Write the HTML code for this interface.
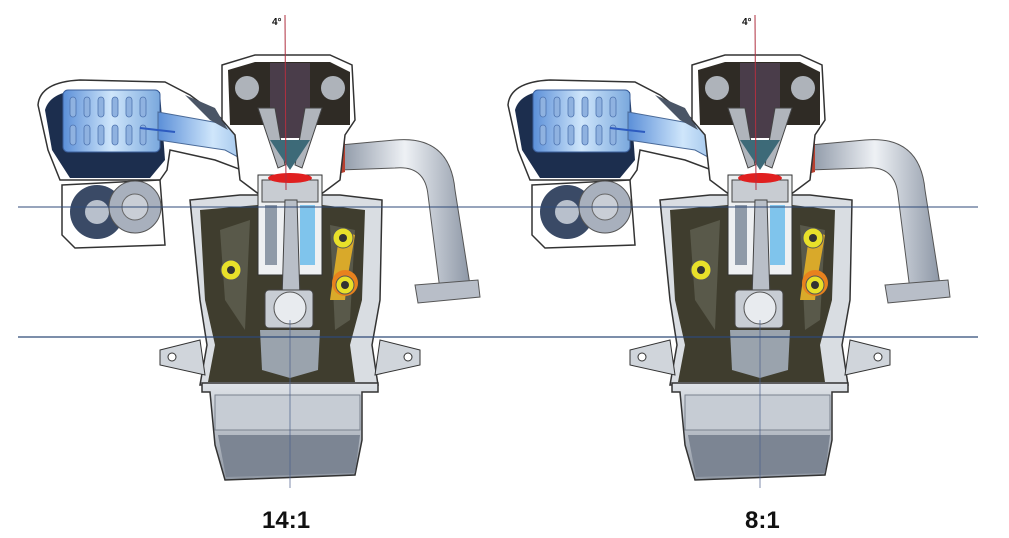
<!DOCTYPE html>
<html><head><meta charset="utf-8"><style>
html,body{margin:0;padding:0;background:#fff;width:1009px;height:538px;overflow:hidden}
svg{display:block}
</style></head><body>
<svg width="1009" height="538" viewBox="0 0 1009 538" xmlns="http://www.w3.org/2000/svg">
<defs>
<linearGradient id="blue" x1="0" x2="1"><stop offset="0" stop-color="#5b8fd8"/><stop offset="0.5" stop-color="#cfe6fb"/><stop offset="1" stop-color="#7aa8dd"/></linearGradient>
<linearGradient id="pipe" x1="0" x2="1"><stop offset="0" stop-color="#8d97a6"/><stop offset="0.5" stop-color="#eef1f5"/><stop offset="1" stop-color="#8d97a6"/></linearGradient>
<linearGradient id="pan" x1="0" y1="0" x2="0" y2="1"><stop offset="0" stop-color="#dfe3e8"/><stop offset="1" stop-color="#8f97a3"/></linearGradient>
<g id="eng">
 <!-- intake box -->
 <path d="M38,105 Q40,82 80,80 L165,82 L190,95 L230,125 L265,160 L255,175 L215,160 L170,150 L167,170 L160,180 L60,180 L48,150 Z" fill="#fff" stroke="#333" stroke-width="1.5"/>
 <path d="M45,110 Q50,92 80,90 L160,92 L165,160 L150,178 L70,178 L52,150 Z" fill="#1c2e4e"/>
 <rect x="63" y="90" width="97" height="62" rx="5" fill="url(#blue)" stroke="#3a5e9a"/>
 <g fill="#8fb2e0" stroke="#4e74b0" stroke-width="0.8">
  <rect x="70" y="97" width="6" height="20" rx="3"/><rect x="84" y="97" width="6" height="20" rx="3"/><rect x="98" y="97" width="6" height="20" rx="3"/><rect x="112" y="97" width="6" height="20" rx="3"/><rect x="126" y="97" width="6" height="20" rx="3"/><rect x="140" y="97" width="6" height="20" rx="3"/>
  <rect x="70" y="125" width="6" height="20" rx="3"/><rect x="84" y="125" width="6" height="20" rx="3"/><rect x="98" y="125" width="6" height="20" rx="3"/><rect x="112" y="125" width="6" height="20" rx="3"/><rect x="126" y="125" width="6" height="20" rx="3"/><rect x="140" y="125" width="6" height="20" rx="3"/>
 </g>
 <path d="M158,112 L230,125 L268,160 L262,170 L225,150 L158,140 Z" fill="url(#blue)" stroke="#4a6a98"/>
 <path d="M185,95 L215,108 L228,130 L210,120 Z" fill="#4a5566"/>
 <path d="M140,128 L175,132" stroke="#2d5bc0" stroke-width="2"/>
 <!-- supercharger -->
 <path d="M62,185 L160,180 L165,245 L75,248 L62,235 Z" fill="#fff" stroke="#333" stroke-width="1.5"/>
 <circle cx="97" cy="212" r="27" fill="#3a4a66"/>
 <circle cx="97" cy="212" r="12" fill="#b8c0cc"/>
 <circle cx="135" cy="207" r="26" fill="#a8b0bd" stroke="#555"/>
 <circle cx="135" cy="207" r="13" fill="#c9ced6" stroke="#666"/>
 <!-- exhaust pipe -->
 <path d="M340,145 L395,140 Q450,135 455,190 L470,285 L440,290 L428,195 Q425,165 395,168 L340,170 Z" fill="url(#pipe)" stroke="#555"/>
 <path d="M415,285 L478,280 L480,297 L418,303 Z" fill="#b8bec8" stroke="#555"/>
 <path d="M300,155 L345,142 L345,172 L318,180 Z" fill="#b84030"/>
 <!-- head -->
 <path d="M222,65 L255,55 L330,55 L352,65 L355,120 L345,135 L340,180 L320,195 L260,195 L240,180 L235,135 L222,120 Z" fill="#fff" stroke="#333" stroke-width="1.5"/>
 <path d="M228,70 L255,62 L330,62 L350,72 L350,125 L230,125 Z" fill="#2f2b25"/>
 <rect x="270" y="63" width="40" height="75" fill="#4a3d4a"/>
 <circle cx="247" cy="88" r="12" fill="#aeb3ba"/>
 <circle cx="333" cy="88" r="12" fill="#aeb3ba"/>
 <path d="M258,108 L275,108 L285,165 L278,168 Z" fill="#b0b5bc" stroke="#444"/>
 <path d="M322,108 L305,108 L295,165 L302,168 Z" fill="#b0b5bc" stroke="#444"/>
 <path d="M270,140 L310,140 L290,170 Z" fill="#3d6a78"/>
 <!-- block -->
 <path d="M190,200 L240,195 L340,195 L382,200 L380,300 L372,345 L378,385 L200,385 L207,345 L200,300 Z" fill="#d9dde2" stroke="#333" stroke-width="1.5"/>
 <path d="M200,210 L258,205 L258,275 L322,275 L322,205 L365,210 L362,300 L350,345 L355,382 L208,382 L215,345 L205,300 Z" fill="#3f3d2e"/>
 <path d="M220,230 L250,220 L245,330 L225,300 Z" fill="#59594a"/>
 <path d="M330,225 L355,230 L350,320 L335,330 Z" fill="#59594a"/>
 <!-- piston/cylinder -->
 <rect x="258" y="175" width="64" height="100" fill="#eef0f2" stroke="#333"/>
 <rect x="262" y="180" width="56" height="22" fill="#c8ccd2" stroke="#444"/>
 <ellipse cx="290" cy="178" rx="22" ry="5" fill="#e02020"/>
 <rect x="300" y="205" width="15" height="60" fill="#7fc4ec"/>
 <rect x="265" y="205" width="12" height="60" fill="#8f9aa8"/>
 <path d="M285,200 L297,200 L300,300 L282,300 Z" fill="#b9bfc8" stroke="#444"/>
 <rect x="265" y="290" width="48" height="38" rx="4" fill="#c8cdd4" stroke="#444"/>
 <circle cx="290" cy="308" r="16" fill="#e8ebef" stroke="#555"/>
 <path d="M260,330 L320,330 L318,370 L290,378 L262,370 Z" fill="#9aa3ad"/>
 <!-- yellow/orange -->
 <circle cx="231" cy="270" r="10" fill="#e8e02a" stroke="#555"/><circle cx="231" cy="270" r="4" fill="#333"/>
 <path d="M340,230 L355,235 L348,275 L345,300 L330,300 L335,265 Z" fill="#d9a92a"/>
 <circle cx="345" cy="283" r="13" fill="#e8821e"/>
 <circle cx="343" cy="238" r="10" fill="#e8e02a" stroke="#555"/><circle cx="343" cy="238" r="4" fill="#333"/>
 <circle cx="345" cy="285" r="9" fill="#e8e02a" stroke="#555"/><circle cx="345" cy="285" r="4" fill="#333"/>
 <!-- brackets -->
 <path d="M160,350 L200,340 L205,375 L160,365 Z" fill="#d0d5db" stroke="#333"/>
 <path d="M420,350 L380,340 L375,375 L420,365 Z" fill="#d0d5db" stroke="#333"/>
 <circle cx="172" cy="357" r="4" fill="#fff" stroke="#333"/><circle cx="408" cy="357" r="4" fill="#fff" stroke="#333"/>
 <!-- oil pan -->
 <path d="M202,383 L378,383 L378,392 L362,392 L362,440 L355,475 L225,480 L215,445 L210,392 L202,392 Z" fill="url(#pan)" stroke="#333" stroke-width="1.5"/>
 <rect x="215" y="395" width="145" height="35" fill="#c6ccd4" stroke="#7a828e"/>
 <path d="M218,435 L360,435 L355,473 L226,477 Z" fill="#7c8593"/>
 <!-- axis -->
 <line x1="285" y1="15" x2="286" y2="190" stroke="#b03040" stroke-width="1"/>
 <line x1="290" y1="320" x2="290" y2="488" stroke="#4a5e8a" stroke-width="0.7"/>
 <text x="272" y="25" font-family="Liberation Sans, sans-serif" font-size="10" font-weight="bold" fill="#111">4°</text>
</g>
</defs>
<use href="#eng"/>
<use href="#eng" transform="translate(470,0)"/>
<line x1="18" y1="207" x2="978" y2="207" stroke="#2f4a78" stroke-width="1"/>
<line x1="18" y1="337" x2="978" y2="337" stroke="#2f4a78" stroke-width="1.2"/>
<text x="262" y="528" font-family="Liberation Sans, sans-serif" font-size="24" font-weight="bold" fill="#111">14:1</text>
<text x="745" y="528" font-family="Liberation Sans, sans-serif" font-size="24" font-weight="bold" fill="#111">8:1</text>
</svg>
</body></html>
